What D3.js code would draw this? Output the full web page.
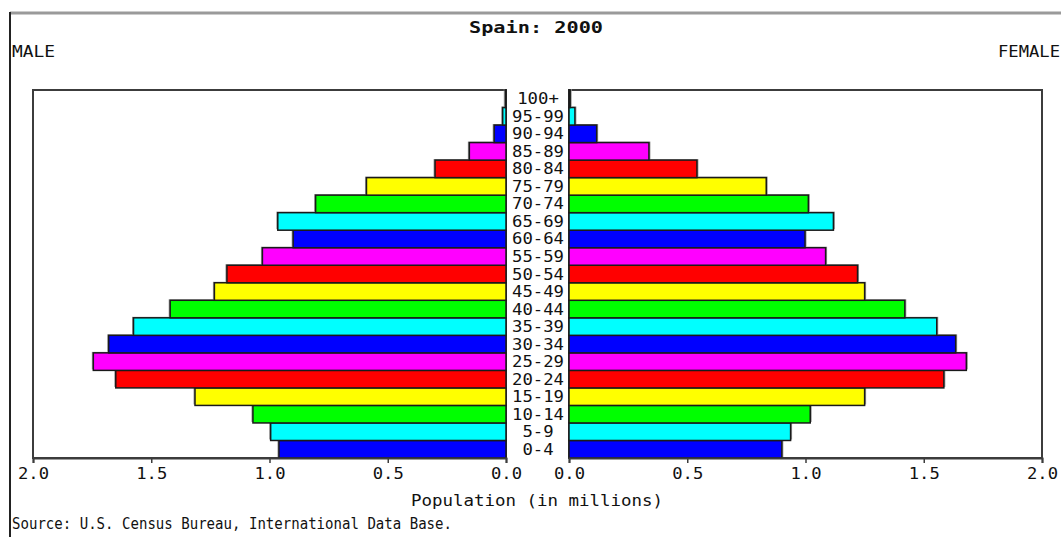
<!DOCTYPE html>
<html>
<head>
<meta charset="utf-8">
<script src="https://cdn.jsdelivr.net/npm/d3@7"></script>
<style>
  body { margin: 0; background: #fff; }
  text { font-family: "DejaVu Sans Mono", "Liberation Mono", monospace; fill: #111; }
</style>
</head>
<body>
<svg id="pyramid" width="1061" height="537"></svg>
<script>
"use strict";

// age groups, youngest first
var ageGroups = ["0-4", "5-9", "10-14", "15-19", "20-24", "25-29", "30-34", "35-39",
                 "40-44", "45-49", "50-54", "55-59", "60-64", "65-69", "70-74",
                 "75-79", "80-84", "85-89", "90-94", "95-99", "100+"];

// population in millions
var male   = [0.96, 0.995, 1.07, 1.315, 1.65, 1.745, 1.68, 1.575, 1.42, 1.233, 1.18,
              1.03, 0.90, 0.965, 0.805, 0.59, 0.30, 0.155, 0.05, 0.014, 0.003];
var female = [0.90, 0.937, 1.02, 1.25, 1.585, 1.68, 1.635, 1.555, 1.42, 1.25, 1.22,
              1.085, 0.998, 1.118, 1.012, 0.834, 0.541, 0.338, 0.117, 0.025, 0.005];

var tickValues = [0, 0.5, 1.0, 1.5, 2.0];
var barColors  = ["#0000ff", "#00ffff", "#00ff00", "#ffff00", "#ff0000", "#ff00ff"];


var svg = d3.select("#pyramid");

var plotTop = 90, plotBottom = 458;

var xMale   = d3.scaleLinear().domain([0, 2]).range([506, 33]);
var xFemale = d3.scaleLinear().domain([0, 2]).range([569, 1042]);

var y = d3.scaleBand()
    .domain(ageGroups)
    .range([plotBottom, plotTop])
    .padding(0);


    // frame lines
svg.append("line")
    .attr("x1", 10).attr("x2", 1061)
    .attr("y1", 13).attr("y2", 13)
    .attr("stroke", "#9a9a9a")
    .attr("stroke-width", 3);

svg.append("line")
    .attr("x1", 10).attr("x2", 10)
    .attr("y1", 12).attr("y2", 537)
    .attr("stroke", "#222")
    .attr("stroke-width", 2);


    // panel boxes
[xMale, xFemale].forEach(function (x) {
    var r = x.range();
    svg.append("rect")
        .attr("x", Math.min(r[0], r[1]))
        .attr("y", plotTop)
        .attr("width", Math.abs(r[1] - r[0]))
        .attr("height", plotBottom - plotTop)
        .attr("fill", "#fff")
        .attr("stroke", "#3c3c3c")
        .attr("stroke-width", 2);
});


    // bars (gray offset shadow first, then the bar)
function drawBars(values, x, side) {

    var g = svg.append("g");

    g.selectAll("rect.shadow")
        .data(values)
        .enter()
        .append("rect")
            .attr("class", "shadow")
            .attr("x", function (d) { return (side < 0 ? x(d) : x(0)) + side * 1.5; })
            .attr("y", function (d, i) { return y(ageGroups[i]) - 1; })
            .attr("width", function (d) { return Math.abs(x(d) - x(0)); })
            .attr("height", y.bandwidth())
            .attr("fill", "#9a9a9a");

    g.selectAll("rect.bar")
        .data(values)
        .enter()
        .append("rect")
            .attr("class", "bar")
            .attr("x", function (d) { return side < 0 ? x(d) : x(0); })
            .attr("y", function (d, i) { return y(ageGroups[i]); })
            .attr("width", function (d) { return Math.abs(x(d) - x(0)); })
            .attr("height", y.bandwidth())
            .attr("fill", function (d, i) { return barColors[i % barColors.length]; })
            .attr("stroke", "#1a1a1a")
            .attr("stroke-width", 1.5);
}

drawBars(male, xMale, -1);
drawBars(female, xFemale, 1);


    // age labels
svg.append("g")
    .selectAll("text")
    .data(ageGroups)
    .enter()
    .append("text")
        .attr("x", 538)
        .attr("y", function (d) { return y(d) + y.bandwidth() / 2 + 5.5; })
        .attr("text-anchor", "middle")
        .attr("font-size", 16)
        .attr("textLength", function (d) { return d.length * 10.4; })
        .attr("lengthAdjust", "spacingAndGlyphs")
        .attr("fill", "#2a2a2a")
        .text(function (d) { return d; });


    // axes
[xMale, xFemale].forEach(function (x) {
    var axis = svg.append("g")
        .attr("transform", "translate(0," + plotBottom + ")")
        .call(d3.axisBottom(x)
            .tickValues(tickValues)
            .tickFormat(d3.format(".1f"))
            .tickSize(5)
            .tickPadding(5));

    axis.select(".domain")
        .attr("stroke", "#3c3c3c")
        .attr("stroke-width", 2);

    axis.selectAll(".tick line").attr("stroke", "#3c3c3c").attr("stroke-width", 1.5);

    axis.selectAll(".tick text")
        .attr("font-size", 15)
        .attr("font-family", "DejaVu Sans Mono")
        .attr("fill", "#111")
        .attr("textLength", 31)
        .attr("lengthAdjust", "spacingAndGlyphs");
});


    // titles
function label(txt, x, yy, anchor, len, bold) {
    svg.append("text")
        .attr("x", x)
        .attr("y", yy)
        .attr("text-anchor", anchor)
        .attr("font-size", 15)
        .attr("font-weight", bold ? "bold" : "normal")
        .attr("textLength", len)
        .attr("lengthAdjust", "spacingAndGlyphs")
        .text(txt);
}

label("Spain: 2000", 536, 33, "middle", 134, true);
label("MALE", 12, 57, "start", 43, false);
label("FEMALE", 1060, 57, "end", 62, false);
label("Population (in millions)", 537, 506, "middle", 252, false);
label("Source: U.S. Census Bureau, International Data Base.", 12, 529, "start", 440, false);

</script>
</body>
</html>
